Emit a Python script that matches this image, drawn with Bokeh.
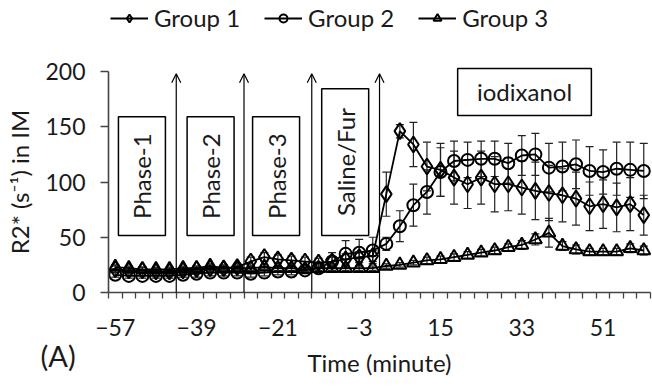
from bokeh.plotting import figure
from bokeh.models import (ColumnDataSource, Whisker, TeeHead, Arrow, OpenHead,
                          BoxAnnotation, Label, FixedTicker, Legend, LegendItem, Range1d)
from bokeh.embed import file_html
from bokeh.resources import INLINE

# ---------------- data ----------------
time_min = [-57, -54, -51, -48, -45, -42, -39, -36, -33, -30,
            -27, -24, -21, -18, -15, -12, -9, -6, -3, 0,
            3, 6, 9, 12, 15, 18, 21, 24, 27, 30,
            33, 36, 39, 42, 45, 48, 51, 54, 57, 60]

group1 = [21, 20, 20, 19, 19, 20, 21, 22, 22, 23,
          28, 32, 30, 29, 28, 27, 28, 30, 32, 33,
          89, 146, 134, 114, 111, 104, 98, 104, 98, 98,
          95, 92, 90, 88, 85, 78, 80, 77, 80, 70]
group1_err = [3, 3, 3, 3, 3, 3, 3, 3, 3, 3,
              4, 4, 4, 4, 4, 4, 4, 5, 5, 5,
              20, 6, 20, 22, 24, 24, 22, 24, 25, 24,
              24, 26, 25, 24, 24, 22, 22, 22, 24, 18]

group2 = [16, 15, 15, 15, 15, 16, 17, 18, 18, 18,
          17, 18, 19, 19, 20, 22, 28, 35, 36, 38,
          44, 60, 79, 91, 109, 119, 120, 121, 121, 117,
          124, 125, 113, 114, 116, 110, 109, 112, 111, 110]
group2_err = [2, 2, 2, 2, 2, 2, 3, 3, 3, 3,
              3, 3, 3, 3, 3, 4, 8, 12, 12, 12,
              6, 14, 19, 20, 22, 18, 16, 16, 16, 18,
              18, 19, 22, 22, 22, 22, 20, 24, 25, 25]

group3 = [23, 22, 21, 21, 21, 22, 22, 24, 22, 22,
          22, 23, 22, 22, 21, 22, 22, 22, 22, 22,
          24, 25, 27, 29, 30, 32, 34, 36, 38, 41,
          43, 48, 54, 42, 39, 37, 37, 37, 40, 38]
group3_err = [2, 2, 2, 2, 2, 2, 2, 2, 2, 2,
              2, 2, 2, 2, 2, 2, 2, 2, 2, 2,
              2, 2, 2, 3, 3, 3, 3, 3, 3, 3,
              4, 5, 13, 4, 4, 3, 3, 3, 4, 4]

group_names = ["Group 1", "Group 2", "Group 3"]
x_tick_values = [-57, -39, -21, -3, 15, 33, 51]
y_tick_values = [0, 50, 100, 150, 200]
y_axis_max = 200

# annotation layout (phase boundaries, label boxes)
phase_bounds = [-43.5, -28.5, -13.5, 1.5]
phase_labels = ["Phase-1", "Phase-2", "Phase-3", "Saline/Fur"]
phase_box_centers = [-51.1, -35.9, -21.4, -6.1]
phase_box_tops = [159, 159, 159, 184.5]
phase_box_bottom = 51.6
phase_box_halfwidth = 5.2

FONT = "Lato"
TXT = "#1a1a1a"

# ---------------- geometry (canvas = plot frame; axes drawn at fixed locations) ----------------
W, H = 652, 387
AXIS_PX_X = 108          # pixel column of the y axis
AXIS_PX_Y = 292          # pixel row of the x axis
PX_PER_MIN = 4.517
PX_PER_UNIT = 1.105

half = (time_min[1] - time_min[0]) / 2.0
x_axis_lo, x_axis_hi = time_min[0] - half, time_min[-1] + half
x_start = x_axis_lo - AXIS_PX_X / PX_PER_MIN
x_end = x_axis_lo + (W - AXIS_PX_X) / PX_PER_MIN
y_start = -(H - AXIS_PX_Y) / PX_PER_UNIT
y_end = AXIS_PX_Y / PX_PER_UNIT

p = figure(width=W, height=H, x_range=Range1d(x_start, x_end), y_range=Range1d(y_start, y_end),
           output_backend="svg", toolbar_location=None,
           min_border_left=0, min_border_right=0, min_border_top=0, min_border_bottom=0)
p.outline_line_color = None
p.grid.visible = False
p.background_fill_color = "white"
p.border_fill_color = "white"

# axes (kept in their side panels, drawn at fixed positions)
xa = p.xaxis[0]
xa.fixed_location = 0
xa.ticker = FixedTicker(ticks=x_tick_values,
                        minor_ticks=[t - half for t in time_min] + [time_min[-1] + half])
xa.bounds = (x_axis_lo, x_axis_hi)
xa.major_tick_out = 0
xa.major_tick_in = 0
xa.minor_tick_out = 6
xa.minor_tick_in = 0
xa.minor_tick_line_color = "#444444"
xa.minor_tick_line_width = 1.3
xa.axis_line_color = "#444444"
xa.axis_line_width = 1.6
xa.major_label_standoff = 20
xa.axis_label = "Time (minute)"
xa.axis_label_standoff = 9

ya = p.yaxis[0]
ya.fixed_location = x_axis_lo
ya.ticker = FixedTicker(ticks=y_tick_values)
ya.bounds = (0, y_axis_max)
ya.major_tick_out = 8
ya.major_tick_in = 0
ya.minor_tick_out = 0
ya.minor_tick_in = 0
ya.major_tick_line_color = "#444444"
ya.major_tick_line_width = 1.3
ya.axis_line_color = "#444444"
ya.axis_line_width = 1.6
ya.major_label_standoff = 15
ya.axis_label = "R2* (s\u207b\u00b9) in IM"
ya.axis_label_standoff = 8

for ax in (xa, ya):
    ax.major_label_text_font = FONT
    ax.major_label_text_font_size = "23px"
    ax.major_label_text_color = TXT
    ax.axis_label_text_font = FONT
    ax.axis_label_text_font_size = "24px"
    ax.axis_label_text_font_style = "normal"
    ax.axis_label_text_color = TXT

# phase arrows
for b in phase_bounds:
    p.add_layout(Arrow(end=OpenHead(size=9, line_width=1.2, line_color="black"),
                       x_start=b, y_start=0, x_end=b, y_end=198,
                       line_width=1.2, line_color="black"))

# phase boxes + rotated labels
for c, top, lab in zip(phase_box_centers, phase_box_tops, phase_labels):
    p.add_layout(BoxAnnotation(left=c - phase_box_halfwidth, right=c + phase_box_halfwidth,
                               bottom=phase_box_bottom, top=top,
                               fill_color="white", fill_alpha=1.0,
                               line_color="black", line_alpha=1.0, line_width=1.5))
    p.add_layout(Label(x=c, y=(phase_box_bottom + top) / 2, text=lab, angle=1.5708,
                       text_align="center", text_baseline="middle",
                       text_font=FONT, text_font_size="24px", text_color=TXT))

# iodixanol box
p.add_layout(BoxAnnotation(left=18.8, right=48.4, bottom=160.2, top=202.7,
                           fill_color="white", fill_alpha=1.0,
                           line_color="black", line_alpha=1.0, line_width=1.5))
p.add_layout(Label(x=33.6, y=181.5, text="iodixanol", text_align="center",
                   text_baseline="middle", text_font=FONT, text_font_size="24px",
                   text_color=TXT))

# series
series = [(group1, group1_err, "diamond", 16),
          (group2, group2_err, "circle", 12),
          (group3, group3_err, "triangle", 13)]
items = []
for name, (vals, errs, mk, sz) in zip(group_names, series):
    src = ColumnDataSource(dict(x=time_min, y=vals,
                                upper=[v + e for v, e in zip(vals, errs)],
                                lower=[v - e for v, e in zip(vals, errs)]))
    p.add_layout(Whisker(source=src, base="x", upper="upper", lower="lower",
                         dimension="height", line_color="#222222", line_width=1.2,
                         upper_head=TeeHead(size=8, line_color="#222222", line_width=1.2),
                         lower_head=TeeHead(size=8, line_color="#222222", line_width=1.2)))
    lr = p.line("x", "y", source=src, line_color="black", line_width=1.8)
    sr = p.scatter("x", "y", source=src, marker=mk, size=sz, fill_alpha=0,
                   line_color="black", line_width=2)
    items.append(LegendItem(label=name, renderers=[lr, sr]))

legend = Legend(items=items, location=(110, H - 32), orientation="horizontal",
                border_line_color=None, background_fill_alpha=0,
                padding=0, margin=0, spacing=24, glyph_width=38, glyph_height=20,
                label_standoff=6, label_text_font=FONT, label_text_font_size="24px",
                label_text_color=TXT)
p.add_layout(legend)

# panel tag
p.add_layout(Label(x=x_start + 40 / PX_PER_MIN, y=(AXIS_PX_Y - 355) / PX_PER_UNIT, text="(A)",
                   text_align="left", text_baseline="middle",
                   text_font=FONT, text_font_size="29px", text_color=TXT))

open("out.html", "w").write(file_html(p, INLINE))
